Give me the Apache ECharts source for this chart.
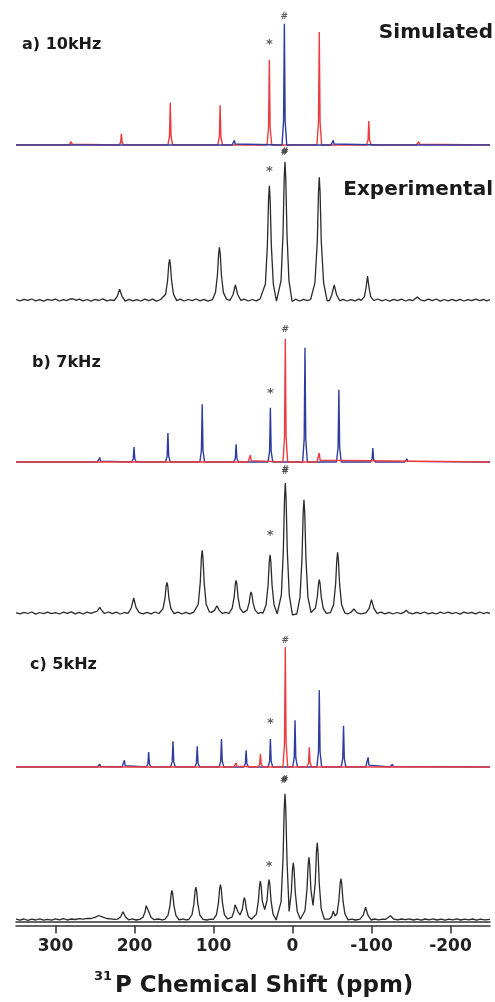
<!DOCTYPE html>
<html>
<head>
<meta charset="utf-8">
<script src="https://cdn.jsdelivr.net/npm/echarts@6/dist/echarts.min.js"></script>
<style>
html,body{margin:0;padding:0;background:#fff;}
#chart{width:495px;height:1002px;}
</style>
</head>
<body>
<div id="chart"></div>
<script>
// ---- data: [ppm, intensity] vertices ----
const simA_red = [[350,0],[283,0],[281,0.7],[280,3.3],[279,0.7],[277,0],
[219.6,0],[217.6,2.3],[216.6,11.3],[215.6,2.3],[213.6,0],
[157.7,0],[155.7,8.5],[154.7,42.3],[153.7,8.5],[151.7,0],
[94.6,0],[92.6,8],[91.6,39.7],[90.6,8],[88.6,0],
[32.3,0],[30.3,17],[29.3,85.3],[28.3,17],[26.3,0],
[-30.9,0],[-32.9,22.6],[-33.9,113],[-34.9,22.6],[-36.9,0],
[-93.6,0],[-95.6,4.8],[-96.6,24],[-97.6,4.8],[-99.6,0],
[-156.8,0],[-158.8,0.7],[-159.8,3.3],[-160.8,0.7],[-162.8,0],[-250,0]];
const simA_blue = [[350,0],[137.8,0],[135.8,1.2],[133.8,0],
[76.5,0],[74.5,1],[73.5,4.7],[72.5,1],[70.5,0],
[13.3,0],[11.3,24],[10.3,121.3],[9.3,24],[7.3,0],
[-48.6,0],[-50.6,1],[-51.6,4.7],[-52.6,1],[-54.6,0],
[-112,0],[-114,1],[-116,0],[-250,0]];
const expA = [[350,0.5],[345,-0.8],[340,0.6],[335,-0.4],[330,1.0],[325,-0.9],[320,0.3],[315,-1.1],[310,0.7],[305,-0.3],[300,0.9],[295,-1.0],[290,0.4],[286,-0.6],
[284,0.2],[281,1.2],[279,2.6],[277,1.0],[274,-0.4],
[270,0.8],[265,-0.9],[260,0.5],[255,-1.2],[250,0.6],[245,-0.5],[240,1.1],[235,-0.8],[230,0.2],
[225.8,-0.5],[221.8,3.7],[218.8,10.7],[215.8,3.7],[211.8,-1.2],
[207,0.7],[202,-0.9],[197,0.4],[192,-1.0],[187,0.8],[182,-0.6],[177,0.9],[172,-1.1],[167,0.5],
[164.6,-0.8],[160.6,5.7],[158.1,19.5],[156.6,35.8],[155.6,40.7],[154.6,35.8],[153.1,19.5],[150.6,5.7],[146.6,-0.6],
[142,0.8],[137,-1.0],[132,0.5],[127,-0.7],[122,1.0],[117,-0.9],[112,0.6],[107,-1.1],
[101.5,0.3],[97.5,7.4],[95,25.3],[93.5,46.4],[92.5,52.7],[91.5,46.4],[90,25.3],[87.5,7.4],[83.5,0.8],
[79.3,-0.5],[75.3,5.3],[72.3,15],[69.3,5.3],[65.3,-0.4],
[61,0.9],[56,-1.0],[51,0.5],[46,-0.8],[41,1.1],
[39.3,0.2],[34.3,16],[31.8,54.9],[30.3,100.6],[29.3,114.3],[28.3,100.6],[26.8,54.9],[24.3,16],[20.3,-1.2],
[18.5,-0.8],[14.5,19.4],[12,66.4],[10.5,121.7],[9.5,138.3],[8.5,121.7],[7,66.4],[4.5,19.4],[0.5,-1.5],
[-4,0.8],[-9,-1.0],[-14,0.6],[-19,-0.7],
[-22.9,0.5],[-28.4,17.2],[-31.4,58.9],[-32.9,108],[-33.9,122.7],[-34.9,108],[-36.4,58.9],[-39.4,17.2],[-43.9,-0.8],
[-46.8,-0.5],[-49.8,5.3],[-52.8,15],[-55.8,5.3],[-59.8,-0.9],
[-64,0.7],[-69,-1.0],[-74,0.4],[-79,-0.8],[-84,0.9],
[-87,-0.3],[-91,3.4],[-93,11.5],[-95,24],[-97,11.5],[-99,3.4],[-103,-0.7],
[-108,1.0],[-113,-0.9],[-118,0.5],[-123,-1.1],[-128,0.7],[-133,-0.6],[-138,0.9],[-143,-1.0],[-148,0.4],[-152,-0.7],
[-154,0.5],[-158,3],[-162,0.2],
[-167,-0.9],[-172,0.8],[-177,-0.6],[-182,1.0],[-187,-1.1],[-192,0.5],[-197,-0.8],[-202,0.7],[-207,-0.9],[-212,0.6],[-217,-1.0],[-222,0.4],[-227,-0.7],[-232,0.9],[-237,-0.6],[-242,0.5],[-246,-0.9],[-250,0.3]];

const simB_blue = [[350,0],[289,0],[287,1],[285,0],
[247,0],[245,0.9],[244,4.5],[243,0.9],[241,0],
[203.6,0],[201.6,3],[200.6,15],[199.6,3],[197.6,0],
[160.7,0],[158.7,5.8],[157.7,29],[156.7,5.8],[154.7,0],
[117.3,0],[115.3,11.5],[114.3,57.7],[113.3,11.5],[111.3,0],
[74.4,0],[72.4,3.5],[71.4,17.7],[70.4,3.5],[68.4,0],
[31,0],[29,10.9],[28,54.3],[27,10.9],[25,0],
[-12.8,0],[-14.8,22.9],[-15.8,114.3],[-16.8,22.9],[-18.8,0],
[-55.7,0],[-57.7,14.5],[-58.7,72.3],[-59.7,14.5],[-61.7,0],
[-98.7,0],[-100.7,2.8],[-101.7,14],[-102.7,2.8],[-104.7,0],
[-142,0],[-144,0.6],[-145,3],[-146,0.6],[-148,0],[-250,0]];
const simB_red = [[350,0],[98.6,0],[96.6,1.5],[94.6,0],
[56.3,0],[54.3,1.4],[53.3,7],[52.3,1.4],[50.3,0],
[12.1,0],[10.1,24.7],[9.1,123.3],[8.1,24.7],[6.1,0],
[-30.9,0],[-32.9,1.8],[-33.9,9],[-34.9,1.8],[-36.9,0],[-250,0]];
const expB = [[350,0.4],[345,-0.9],[340,0.7],[335,-0.5],[330,1.0],[325,-1.1],[320,0.5],[315,-0.7],[310,0.9],[305,-0.6],[300,0.3],[295,-1.0],[290,0.8],[285,-0.4],[280,1.1],[275,-0.8],[270,0.6],[265,-1.0],[260,0.9],[255,-0.3],[251,0.8],
[250,0.2],[247,2],[244,5.7],[241,2],[238,-0.5],
[233,1.0],[228,-0.7],[223,0.8],[218,-1.0],[213,0.5],
[208,-0.3],[204,5.3],[201,15],[198,5.3],[194,0.3],
[189,-0.9],[184,0.6],[179,-0.8],[174,1.0],[169,-0.5],
[167.9,0.2],[163.9,4.3],[161.4,14.7],[159.9,27],[158.9,30.7],[157.9,27],[156.4,14.7],[153.9,4.3],[149.9,-0.6],
[145,0.8],[140,-1.0],[135,0.6],[130,-0.8],[125,0.9],
[123.3,-0.4],[119.3,8.8],[116.8,30.1],[115.3,55.2],[114.3,62.7],[113.3,55.2],[111.8,30.1],[109.3,8.8],[105.3,1.2],
[102.7,0.6],[98.7,2.6],[95.7,7.3],[92.7,2.6],[88.7,-0.5],
[85,0.7],
[80.4,-0.3],[76.4,4.6],[73.9,15.7],[72.4,28.8],[71.4,32.7],[70.4,28.8],[68.9,15.7],[66.4,4.6],[62.4,0.4],
[61.4,0.2],[57.4,2.9],[54.9,10.1],[53.4,18.5],[52.4,21],[51.4,18.5],[49.9,10.1],[47.4,2.9],[43.4,-0.6],
[40,0.7],
[37.4,-0.2],[33.4,8.2],[30.9,28],[29.4,51.3],[28.4,58.3],[27.4,51.3],[25.9,28],[23.4,8.2],[19.4,-0.8],
[18.1,-0.5],[14.1,18.2],[11.6,62.4],[10.1,114.4],[9.1,130],[8.1,114.4],[6.6,62.4],[4.1,18.2],[0.1,-1.8],
[-5.5,-1.0],[-9.5,15.9],[-12,54.4],[-13.5,99.7],[-14.5,113.3],[-15.5,99.7],[-17,54.4],[-19.5,15.9],[-23.5,0.5],
[-24.9,0.3],[-28.9,4.7],[-31.4,16],[-32.9,29.3],[-33.9,33.3],[-34.9,29.3],[-36.4,16],[-38.9,4.7],[-42.9,-0.4],
[-48.1,0.4],[-52.1,8.5],[-54.6,29.1],[-56.1,53.4],[-57.1,60.7],[-58.1,53.4],[-59.6,29.1],[-62.1,8.5],[-66.1,0.2],
[-70,-0.8],
[-73.7,0.5],[-77.7,4],[-81.7,0.3],
[-86,-0.9],
[-93,0.2],[-97,4.7],[-100,13.3],[-103,4.7],[-107,-0.4],
[-112,0.9],[-117,-0.8],[-122,0.6],[-127,-1.0],[-132,0.5],[-137,-0.7],[-141,0.6],
[-144,2.7],[-147,0.3],
[-152,-0.9],[-157,0.7],[-162,-0.6],[-167,1.0],[-172,-0.8],[-177,0.4],[-182,-1.0],[-187,0.8],[-192,-0.5],[-197,0.9],[-202,-0.7],[-207,0.5],[-212,-1.1],[-217,0.8],[-222,-0.4],[-227,0.7],[-232,-0.9],[-237,1.0],[-242,-0.6],[-246,0.5],[-250,-0.3]];

const simC_blue = [[350,0],[247,0],[245,0.5],[244,2.7],[243,0.5],[241,0],
[215.8,0],[213.8,1.3],[212.8,6.7],[211.8,1.3],[209.8,0],
[185.1,0],[183.1,3],[182.1,15],[181.1,3],[179.1,0],
[154.3,0],[152.3,5.1],[151.3,25.7],[150.3,5.1],[148.3,0],
[123.6,0],[121.6,4.1],[120.6,20.7],[119.6,4.1],[117.6,0],
[92.9,0],[90.9,5.6],[89.9,28],[88.9,5.6],[86.9,0],
[61.7,0],[59.7,3.3],[58.7,16.7],[57.7,3.3],[55.7,0],
[31,0],[29,5.6],[28,28],[27,5.6],[25,0],
[-0.2,0],[-2.2,9.3],[-3.2,46.7],[-4.2,9.3],[-6.2,0],
[-30.9,0],[-32.9,15.3],[-33.9,76.7],[-34.9,15.3],[-36.9,0],
[-61.6,0],[-63.6,8.3],[-64.6,41.3],[-65.6,8.3],[-67.6,0],
[-92.7,0],[-94.7,1.9],[-95.7,9.7],[-96.7,1.9],[-98.7,0],
[-123.5,0],[-125.5,0.5],[-126.5,2.7],[-127.5,0.5],[-129.5,0],[-250,0]];
const simC_red = [[350,0],[74.4,0],[72.4,0.8],[71.4,4],[70.4,0.8],[68.4,0],
[43.6,0],[41.6,2.6],[40.6,13],[39.6,2.6],[37.6,0],
[12.1,0],[10.1,24],[9.1,120],[8.1,24],[6.1,0],
[-18.3,0],[-20.3,3.9],[-21.3,19.7],[-22.3,3.9],[-24.3,0],
[-50,0],[-52,1.7],[-54,0],[-250,0]];
const expC = [[350,0.3],[345,-0.6],[340,0.5],[335,-0.8],[330,0.4],[325,-0.5],[320,0.7],[315,-0.6],[310,0.2],[305,-0.7],[300,0.6],[295,-0.3],[290,0.8],[285,-0.5],[280,0.5],[275,0.0],[270,0.9],[265,0.3],[260,1.1],
[255,1.0],[250,2.2],[245.3,4],[240,2.4],[235,1.0],[230,0.6],[225,0.2],
[221.5,0.3],[217.5,2.7],[214.5,7.7],[211.5,2.7],[207.5,-0.3],
[203,0.6],[198,-0.5],
[193.2,0.1],[189.2,2.2],[186.7,7.5],[185.2,13.8],[184.2,15.7],[183.2,13.8],[181.7,7.5],[179.2,2.2],[175.2,-0.2],
[170,0.5],[165,-0.4],
[161.6,0.2],[157.6,4.1],[155.1,13.9],[153.6,25.5],[152.6,29],[151.6,25.5],[150.1,13.9],[147.6,4.1],[143.6,-0.3],
[138,0.5],[135,-0.4],
[131.3,0],[127.3,4.5],[124.8,15.5],[123.3,28.4],[122.3,32.3],[121.3,28.4],[119.8,15.5],[117.3,4.5],[113.3,0.2],
[108,-0.5],[104,0.4],
[100.2,0.1],[96.2,4.9],[93.7,16.8],[92.2,30.8],[91.2,35],[90.2,30.8],[88.7,16.8],[86.2,4.9],[82.2,0.5],
[80.7,0.3],[76.7,2.3],[74.2,8],[72.7,14.7],[71.7,16.7],[70.7,14.7],[69.2,8],[66.5,4.5],[63.4,10.4],[61.9,19.1],[60.9,21.7],[59.9,19.1],[58.4,10.4],[55.9,3],[51.9,0.2],
[49.7,0.2],[45.7,5.4],[43.2,18.4],[41.7,33.7],[40.7,38.3],[39.7,33.7],[38.2,18.4],[35.2,10],[32.2,19.2],[30.7,35.2],[29.7,40],[28.7,35.2],[27.2,19.2],[24.7,5.6],[20.7,-0.5],
[18.5,0.3],[14.5,17.6],[12,60.3],[10.5,110.6],[9.5,125.7],[8.5,110.6],[7,60.3],[4.3,8],[1.5,27.2],[0,49.9],[-1,56.7],[-2,49.9],[-3.5,27.2],[-6,7.9],[-10,0.2],
[-11.8,0],[-15.8,8.7],[-18.3,29.9],[-19.8,54.8],[-20.8,62.3],[-21.8,54.8],[-23.3,29.9],[-26,14],[-28.8,36.8],[-30.3,67.5],[-31.3,76.7],[-32.3,67.5],[-33.8,36.8],[-36.3,10.7],[-40.3,0.3],
[-46.6,0.4],[-49.6,3],[-51.6,8.3],[-53.8,3.5],[-56.3,5.7],[-58.8,19.7],[-60.3,36.1],[-61.3,41],[-62.3,36.1],[-63.8,19.7],[-66.3,5.7],[-70.3,-0.4],
[-75,0.4],[-80,-0.5],
[-85.5,0.3],[-89.5,4.3],[-92.5,12.3],[-95.5,4.3],[-99.5,-0.5],
[-104,0.5],[-109,-0.3],[-114,0.4],[-118,0.2],
[-120,0.6],[-124,3.7],[-128,0.5],
[-133,-0.4],[-138,0.5],[-143,-0.2],[-148,0.6],[-153,-0.5],[-158,0.3],[-163,-0.6],[-168,0.5],[-173,-0.3],[-178,0.6],[-183,-0.5],[-188,0.4],[-193,-0.6],[-198,0.3],[-203,-0.4],[-208,0.6],[-213,-0.5],[-218,0.4],[-223,-0.3],[-228,0.5],[-233,-0.6],[-238,0.4],[-243,-0.3],[-250,0.2]];

// annotation marks: [ppm, intensity, symbol]
const annA_sim = [[29.3,100,'*'],[10.3,128,'#'],[10.3,-8,'#']];
const annA_exp = [[29.3,128,'*'],[9.5,148,'#']];
const annB_sim = [[9.1,132,'#'],[28,68,'*'],[9.1,-8,'#']];
const annB_exp = [[9.1,141,'#'],[28.4,77,'*']];
const annC_sim = [[9.1,126,'#'],[28,43,'*'],[11,-14,'#']];
const annC_exp = [[9.5,140,'#'],[29.7,53,'*']];

const tickValues = [300,200,100,0,-100,-200];
const panelLabels = ['a) 10kHz','b) 7kHz','c) 5kHz'];
const sideLabels = ['Simulated','Experimental'];
const axisTitleSup = '31';
const axisTitleMain = 'P Chemical Shift (ppm)';

// ---- layout ----
const RED = '#ee3b3e', BLUE = '#2f3c9f', BLACK = '#2a2a2a';
const FONT = '"DejaVu Sans", "Liberation Sans", Arial, sans-serif';
const grids = [
  {top:5, height:160, ymin:-20},
  {top:150, height:170, ymin:-20},
  {top:315, height:167, ymin:-20},
  {top:465, height:168, ymin:-20},
  {top:625, height:162, ymin:-20},
  {top:780, height:142, ymin:-2.5}
];

const chart = echarts.init(document.getElementById('chart'), null, {renderer:'canvas'});

const gridOpt = grids.map(g => ({left:16, right:5, top:g.top, height:g.height, containLabel:false}));
const xAxes = grids.map((g,i) => ({
  type:'value', gridIndex:i, min:-250, max:350, inverse:true,
  show: i === 5,
  axisLine:{show:true, onZero:false, lineStyle:{color:'#333', width:1.5}},
  axisTick:{show:false}, axisLabel:{show:false}, splitLine:{show:false}
}));
xAxes.push({
  type:'value', gridIndex:5, min:-250, max:350, inverse:true, position:'bottom', offset:3.5,
  axisLine:{show:true, onZero:false, lineStyle:{color:'#333', width:1.5}},
  axisTick:{show:true, inside:false, length:8, lineStyle:{color:'#333', width:1.5}, customValues:tickValues},
  axisLabel:{show:true, customValues:tickValues, margin:13, fontSize:17, fontWeight:'bold', color:'#222', fontFamily:FONT,
    formatter: v => String(v)},
  splitLine:{show:false}
});
const yAxes = grids.map((g,i) => ({
  type:'value', gridIndex:i, min:g.ymin, max:g.ymin + g.height, show:false, splitLine:{show:false}
}));

function lineSeries(data, idx, color, width) {
  return {type:'line', xAxisIndex:idx, yAxisIndex:idx, data:data, showSymbol:false, symbol:'none',
    smooth:false, lineStyle:{color:color, width:width}, animation:false, silent:true, z:2};
}
function annSeries(data, idx) {
  return {type:'scatter', xAxisIndex:idx, yAxisIndex:idx, clip:false, symbol:'circle', symbolSize:1,
    itemStyle:{color:'rgba(0,0,0,0)'}, animation:false, silent:true, z:5,
    data: data.map(d => ({value:[d[0], d[1]], label:{formatter:d[2], fontSize: d[2]==='*' ? 13 : 9}})),
    label:{show:true, position:'inside', color:'#333', fontWeight:'bold', fontFamily:FONT}};
}

const series = [
  lineSeries(simA_red, 0, RED, 1.4),
  lineSeries(simA_blue, 0, BLUE, 1.4),
  lineSeries(expA, 1, BLACK, 1.3),
  lineSeries(simB_blue, 2, BLUE, 1.4),
  lineSeries(simB_red, 2, RED, 1.4),
  lineSeries(expB, 3, BLACK, 1.3),
  lineSeries(simC_blue, 4, BLUE, 1.4),
  lineSeries(simC_red, 4, RED, 1.4),
  lineSeries(expC, 5, BLACK, 1.3),
  annSeries(annA_sim, 0), annSeries(annA_exp, 1),
  annSeries(annB_sim, 2), annSeries(annB_exp, 3),
  annSeries(annC_sim, 4), annSeries(annC_exp, 5)
];

function txt(text, x, y, size, align) {
  return {type:'text', x:x, y:y, silent:true,
    style:{text:text, fill:'#1a1a1a', font:'bold ' + size + 'px ' + FONT, textAlign:align||'left', textVerticalAlign:'middle'}};
}

chart.setOption({
  animation:false,
  backgroundColor:'#fff',
  grid: gridOpt,
  xAxis: xAxes,
  yAxis: yAxes,
  series: series,
  graphic: [
    txt(panelLabels[0], 22, 45, 16),
    txt(panelLabels[1], 32, 363, 16),
    txt(panelLabels[2], 30, 665, 16),
    txt(sideLabels[0], 493, 33, 20, 'right'),
    txt(sideLabels[1], 493, 190, 20, 'right'),
    txt(axisTitleSup, 94, 977, 13),
    txt(axisTitleMain, 115, 986, 23)
  ]
});
</script>
</body>
</html>
